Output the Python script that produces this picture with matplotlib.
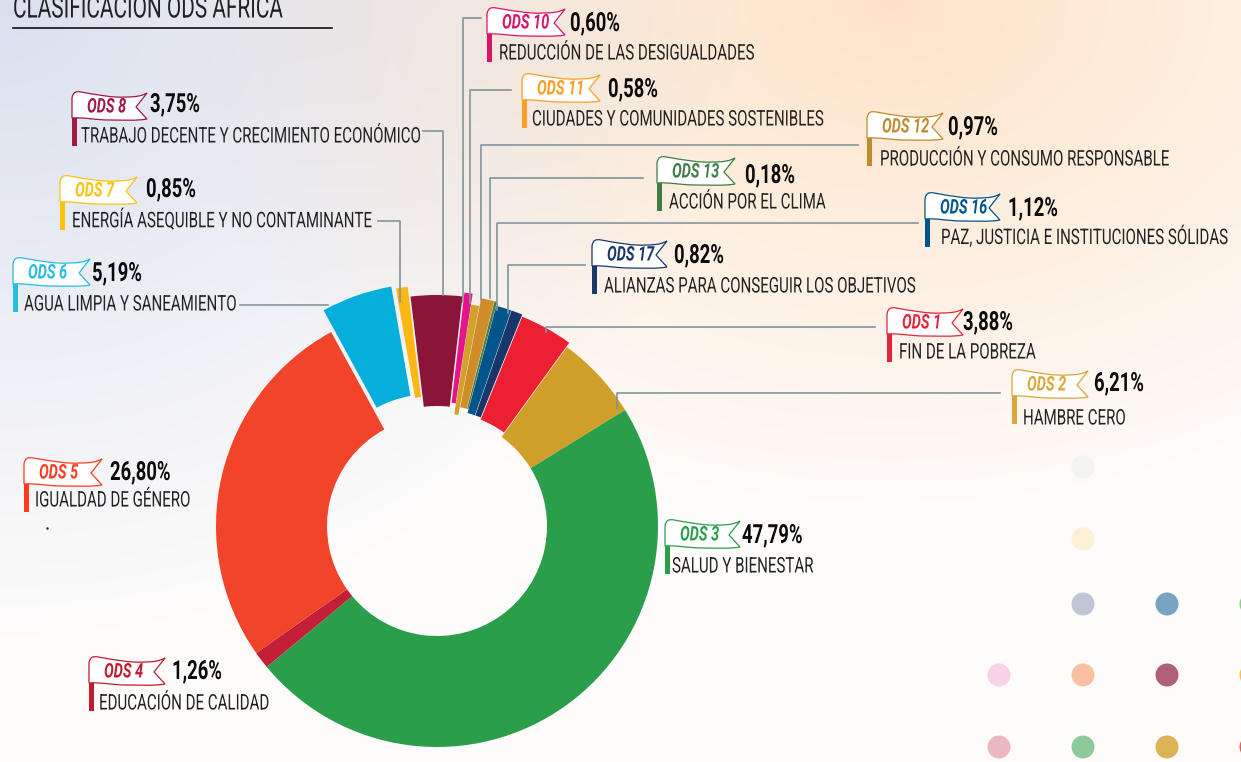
import numpy as np
import matplotlib
matplotlib.use('Agg')
import matplotlib.pyplot as plt
from matplotlib.patches import Circle, PathPatch, Rectangle
from matplotlib.path import Path
from matplotlib.patheffects import AbstractPathEffect
from matplotlib.text import Text
from matplotlib.transforms import Affine2D, Bbox

W, H = 1241, 762

ods = ['ODS 1', 'ODS 2', 'ODS 3', 'ODS 4', 'ODS 5', 'ODS 6', 'ODS 7', 'ODS 8',
       'ODS 10', 'ODS 11', 'ODS 12', 'ODS 13', 'ODS 16', 'ODS 17']
values = [3.88, 6.21, 47.79, 1.26, 26.80, 5.19, 0.85, 3.75, 0.60, 0.58, 0.97, 0.18, 1.12, 0.82]
names = ['FIN DE LA POBREZA', 'HAMBRE CERO', 'SALUD Y BIENESTAR', 'EDUCACIÓN DE CALIDAD',
         'IGUALDAD DE GÉNERO', 'AGUA LIMPIA Y SANEAMIENTO', 'ENERGÍA ASEQUIBLE Y NO CONTAMINANTE',
         'TRABAJO DECENTE Y CRECIMIENTO ECONÓMICO', 'REDUCCIÓN DE LAS DESIGUALDADES',
         'CIUDADES Y COMUNIDADES SOSTENIBLES', 'PRODUCCIÓN Y CONSUMO RESPONSABLE',
         'ACCIÓN POR EL CLIMA', 'PAZ, JUSTICIA E INSTITUCIONES SÓLIDAS',
         'ALIANZAS PARA CONSEGUIR LOS OBJETIVOS']
colors = ['#ed1f33', '#cf9f2a', '#2b9e4c', '#c41f38', '#f1442b', '#05aedb', '#fdb713', '#8a1538',
          '#e5148b', '#d3a029', '#cf8d2a', '#4a7c3a', '#02558b', '#19366b']
flag_colors = ['#e5243b', '#dda63a', '#2b9e4c', '#c5192d', '#ff3a21', '#26bde2', '#fcc30b', '#a21942',
               '#dd1367', '#fd9d24', '#bf8b2e', '#3f7e44', '#00558a', '#19386a']

# separacion de cada porcion, en pixeles (pie no la escala con el radio)
explode = [5, 0, 0, 0, 0, 23, 20, 10, 14, 3, 11, 11, 7, 7]

# posiciones en pixeles: x bandera, y arriba, x punta, x valor, y valor, x nombre, y nombre
layout = [(887, 308, 963, 963, 323, 899, 353), (1012, 370, 1088, 1094, 384, 1023, 419),
          (665, 520, 740, 742, 536, 672, 567), (89, 657, 165, 172, 672, 99, 704),
          (24, 458, 102, 110, 473, 35, 501), (13, 258, 90, 92, 274, 24, 305),
          (60, 176, 137, 146, 190, 72, 221), (72, 92, 147, 150, 105, 81, 137),
          (487, 8, 565, 570, 24, 499, 54), (522, 74, 600, 608, 90, 532, 120),
          (867, 112, 943, 948, 128, 880, 160), (657, 157, 735, 745, 176, 669, 203),
          (925, 193, 1000, 1008, 209, 941, 237), (592, 240, 667, 674, 256, 604, 287)]

leaders = [[(875, 327), (546, 327), (546, 332)], [(1000, 393), (617, 393), (617, 408)],
           [(240, 305), (328, 305)], [(378, 221), (400, 221), (400, 302)],
           [(423, 131), (443, 131), (443, 295)], [(481, 18), (463, 18), (463, 302)],
           [(511, 90), (470, 90), (470, 303)], [(858, 145), (481, 145), (481, 300)],
           [(643, 178), (490, 178), (490, 298)], [(918, 223), (497, 223), (497, 310)],
           [(585, 265), (508, 265), (508, 313)]]

dots = [(1083, 467, '#f3f3f0'), (1083, 539, '#fdf0d5'), (1083, 604, '#bfc7d6'), (1167, 604, '#78a4c2'),
        (1251, 604, '#8ccf8c'), (999, 675, '#f8d2e8'), (1083, 675, '#f9c0a3'), (1167, 675, '#b06078'),
        (1251, 675, '#fcc040'), (999, 747, '#ecb8c0'), (1083, 747, '#8ec99b'), (1167, 747, '#dcb355'),
        (1251, 747, '#ef5a4a')]

plt.rcParams['font.family'] = ['Roboto', 'DejaVu Sans']


class Squeeze(AbstractPathEffect):
    # la fuente original es condensada: se estrecha el trazo en horizontal
    def __init__(self, sx):
        super().__init__()
        self.sx = sx

    def draw_path(self, renderer, gc, tpath, affine, rgbFace=None):
        renderer.draw_path(gc, tpath, Affine2D().scale(self.sx, 1) + affine, rgbFace)


class NarrowText(Text):
    def __init__(self, x, y, s, sx, **kw):
        super().__init__(x, y, s, ha='left', va='center', **kw)
        self.sx = sx
        self.set_path_effects([Squeeze(sx)])

    def get_window_extent(self, renderer=None, dpi=None):
        b = super().get_window_extent(renderer, dpi)
        return Bbox.from_extents(b.x0, b.y0, b.x0 + b.width * self.sx, b.y1)


def Y(y):
    return H - y


def put_text(ax, x, y, s, sx, **kw):
    ax.add_artist(NarrowText(x, Y(y), s, sx, zorder=6, **kw))


def draw_flag(ax, x, top, tip, color, label):
    w = tip - x
    verts = [(x, top + 6),
             (x + 1, top), (x + 4, top - 1), (x + w * .12, top),
             (x + w * .35, top + 3), (x + w * .55, top + 6), (x + w * .72, top + 5),
             (x + w * .85, top + 5), (x + w * .93, top + 4), (tip, top + 1),
             (tip - 11, top + 15),
             (tip, top + 27),
             (x + w * .85, top + 29), (x + w * .7, top + 28), (x + w * .5, top + 28),
             (x + w * .3, top + 28), (x + w * .15, top + 25), (x, top + 26),
             (x, top + 6)]
    codes = [Path.MOVETO] + [Path.CURVE4] * 9 + [Path.LINETO, Path.LINETO] + [Path.CURVE4] * 6 + [Path.LINETO]
    ax.add_patch(PathPatch(Path([(a, Y(b)) for a, b in verts], codes), fc='white', ec=color, lw=0.9, zorder=5))
    ax.add_patch(Rectangle((x, Y(top + 54)), 5, 28, fc=color, ec='none', zorder=5))
    put_text(ax, x + 15, top + 15, label, 0.72, color=color, fontsize=14.5, fontweight='bold', style='italic')


fig = plt.figure(figsize=(W / 100, H / 100), dpi=100)
ax = fig.add_axes([0, 0, 1, 1])

# fondo degradado
xx, yy = np.meshgrid(np.linspace(0, 1, 200), np.linspace(0, 1, 120))
blue = np.clip(1 - np.hypot(xx / .6, yy / .85), 0, 1)
peach = np.clip(1 - np.hypot((xx - .72) / .6, yy / .7), 0, 1)
bg = np.ones(xx.shape + (3,)) * np.array([0.997, 0.99, 0.985])
for i, c in enumerate((0.86, 0.89, 0.95)):
    bg[..., i] -= (1 - c) * blue
for i, c in enumerate((0.995, 0.90, 0.80)):
    bg[..., i] -= (1 - c) * peach
ax.imshow(np.clip(bg, 0, 1), extent=(0, W, 0, H), origin='upper', aspect='auto', interpolation='bilinear', zorder=0)

for x, y, c in dots:
    ax.add_patch(Circle((x, Y(y)), 11.5, fc=c, ec='none', zorder=1))

ax.pie(values, colors=colors, explode=explode, startangle=68, counterclock=False,
       center=(437, Y(526)), radius=221, frame=True,
       wedgeprops=dict(width=111, linewidth=0, zorder=2))
ax.set_xlim(0, W)
ax.set_ylim(0, H)
ax.set_aspect('auto')
ax.axis('off')

for pts in leaders:
    ax.plot([p[0] for p in pts], [Y(p[1]) for p in pts], color='#83959a', lw=1.2, zorder=3)

for i, lab in enumerate(ods):
    x, top, tip, xval, yval, xname, yname = layout[i]
    draw_flag(ax, x, top, tip, flag_colors[i], lab)
    put_text(ax, xval, yval, f'{values[i]:.2f}%'.replace('.', ','), 0.7, fontsize=19, fontweight='bold',
             color='#0b0b0b')
    put_text(ax, xname, yname, names[i], 0.7, fontsize=15.5, color='#222222')

put_text(ax, 13, 9, 'CLASIFICACIÓN ODS ÁFRICA', 0.68, fontsize=22, color='#222222')
ax.plot([13, 332], [Y(28), Y(28)], color='#111111', lw=1.2, zorder=6)
ax.plot([47], [Y(528)], marker='.', ms=1.5, color='#222222', zorder=6)

fig.savefig('out.png', dpi=100)
